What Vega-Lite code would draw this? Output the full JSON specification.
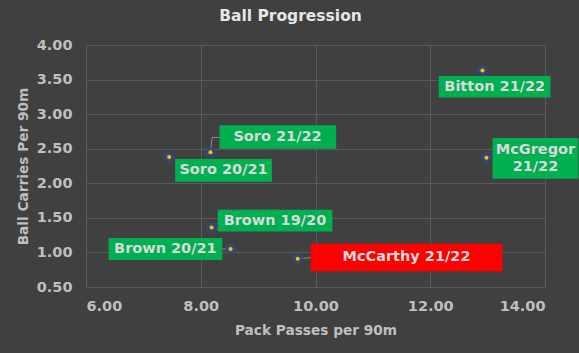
{
  "$schema": "https://vega.github.io/schema/vega-lite/v6.json",
  "width": 459,
  "height": 242,
  "autosize": "none",
  "padding": {"left": 86, "top": 45, "right": 34, "bottom": 66},
  "background": "#404040",
  "title": {"text": "Ball Progression", "fontSize": 15.5, "font": "DejaVu Sans", "fontWeight": "bold", "color": "#E6E6E6", "anchor": "middle", "dx": -25, "offset": 13},
  "data": {"values": [
    {"name": "Bitton 21/22", "x": 12.91, "y": 3.63},
    {"name": "McGregor 21/22", "x": 12.98, "y": 2.37},
    {"name": "Soro 21/22", "x": 8.17, "y": 2.45},
    {"name": "Soro 20/21", "x": 7.45, "y": 2.38},
    {"name": "Brown 19/20", "x": 8.19, "y": 1.36},
    {"name": "Brown 20/21", "x": 8.52, "y": 1.05},
    {"name": "McCarthy 21/22", "x": 9.69, "y": 0.91}
  ]},
  "encoding": {
    "x": {"field": "x", "type": "quantitative", "scale": {"domain": [6, 14], "nice": false, "zero": false},
      "axis": {"values": [6, 8, 10, 12, 14], "format": ".2f", "title": "Pack Passes per 90m", "grid": true, "gridColor": "#5A5A5A", "domain": false, "ticks": false, "labelPadding": 12, "labelFont": "DejaVu Sans", "labelFontSize": 14.5, "labelFontWeight": "bold", "labelColor": "#BFBFBF", "titleFont": "DejaVu Sans", "titleFontSize": 13.7, "titleFontWeight": "bold", "titleColor": "#BFBFBF", "titlePadding": 11}},
    "y": {"field": "y", "type": "quantitative", "scale": {"domain": [0.5, 4], "nice": false, "zero": false},
      "axis": {"values": [0.5, 1, 1.5, 2, 2.5, 3, 3.5, 4], "format": ".2f", "title": "Ball Carries Per 90m", "grid": true, "gridColor": "#5A5A5A", "domain": false, "ticks": false, "labelPadding": 14, "labelFont": "DejaVu Sans", "labelFontSize": 14.5, "labelFontWeight": "bold", "labelColor": "#BFBFBF", "titleFont": "DejaVu Sans", "titleFontSize": 13.7, "titleFontWeight": "bold", "titleColor": "#BFBFBF", "titlePadding": 6}}
  },
  "layer": [
    {"transform": [{"filter": "datum.name === 'Soro 21/22'"}], "mark": {"type": "rule", "color": "#8C8C8C", "strokeWidth": 1, "x2Offset": 1.7, "y2Offset": -14.7}, "encoding": {"x2": {"field": "x"}, "y2": {"field": "y"}}},
    {"transform": [{"filter": "datum.name === 'Soro 21/22'"}], "mark": {"type": "rule", "color": "#8C8C8C", "strokeWidth": 1, "xOffset": 1.7, "x2Offset": 9, "yOffset": -14.7, "y2Offset": -14.7}, "encoding": {"x2": {"field": "x"}, "y2": {"field": "y"}}},
    {"transform": [{"filter": "datum.name === 'Brown 20/21'"}], "mark": {"type": "rule", "color": "#8C8C8C", "strokeWidth": 1, "xOffset": -8.3, "x2Offset": -2}, "encoding": {"x2": {"field": "x"}, "y2": {"field": "y"}}},
    {"transform": [{"filter": "datum.name === 'McCarthy 21/22'"}], "mark": {"type": "rule", "color": "#8C8C8C", "strokeWidth": 1, "xOffset": 2, "x2Offset": 13, "y2Offset": -1}, "encoding": {"x2": {"field": "x"}, "y2": {"field": "y"}}},
    {"mark": {"type": "circle", "size": 150, "color": "#33497A", "opacity": 0.45}},
    {"mark": {"type": "circle", "size": 80, "color": "#33497A", "opacity": 0.9}},
    {"mark": {"type": "circle", "size": 16, "color": "#FFC000", "opacity": 1}},

    {"transform": [{"filter": "datum.name === 'Bitton 21/22'"}], "mark": {"type": "rect", "color": "#00B050", "xOffset": -43.7, "x2Offset": 68, "yOffset": 5.3, "y2Offset": 27}, "encoding": {"x2": {"field": "x"}, "y2": {"field": "y"}}},
    {"transform": [{"filter": "datum.name === 'Bitton 21/22'"}], "mark": {"type": "text", "font": "DejaVu Sans", "fontSize": 14.5, "fontWeight": "bold", "color": "#D9D9D9", "dx": 12.3, "dy": 16.3, "align": "center", "baseline": "middle"}, "encoding": {"text": {"field": "name"}}},

    {"transform": [{"filter": "datum.name === 'McGregor 21/22'"}], "mark": {"type": "rect", "color": "#00B050", "xOffset": 6, "x2Offset": 92, "yOffset": -19.7, "y2Offset": 21}, "encoding": {"x2": {"field": "x"}, "y2": {"field": "y"}}},
    {"transform": [{"filter": "datum.name === 'McGregor 21/22'"}], "mark": {"type": "text", "font": "DejaVu Sans", "fontSize": 14.5, "fontWeight": "bold", "color": "#D9D9D9", "dx": 49, "dy": -8, "align": "center", "baseline": "middle"}, "encoding": {"text": {"value": "McGregor"}}},
    {"transform": [{"filter": "datum.name === 'McGregor 21/22'"}], "mark": {"type": "text", "font": "DejaVu Sans", "fontSize": 14.5, "fontWeight": "bold", "color": "#D9D9D9", "dx": 49, "dy": 9.5, "align": "center", "baseline": "middle"}, "encoding": {"text": {"value": "21/22"}}},

    {"transform": [{"filter": "datum.name === 'Soro 21/22'"}], "mark": {"type": "rect", "color": "#00B050", "xOffset": 9, "x2Offset": 125.7, "yOffset": -27, "y2Offset": -3.3}, "encoding": {"x2": {"field": "x"}, "y2": {"field": "y"}}},
    {"transform": [{"filter": "datum.name === 'Soro 21/22'"}], "mark": {"type": "text", "font": "DejaVu Sans", "fontSize": 14.5, "fontWeight": "bold", "color": "#D9D9D9", "dx": 67, "dy": -15, "align": "center", "baseline": "middle"}, "encoding": {"text": {"field": "name"}}},

    {"transform": [{"filter": "datum.name === 'Soro 20/21'"}], "mark": {"type": "rect", "color": "#00B050", "xOffset": 6, "x2Offset": 102.7, "yOffset": 2, "y2Offset": 24.7}, "encoding": {"x2": {"field": "x"}, "y2": {"field": "y"}}},
    {"transform": [{"filter": "datum.name === 'Soro 20/21'"}], "mark": {"type": "text", "font": "DejaVu Sans", "fontSize": 14.5, "fontWeight": "bold", "color": "#D9D9D9", "dx": 54.3, "dy": 13.3, "align": "center", "baseline": "middle"}, "encoding": {"text": {"field": "name"}}},

    {"transform": [{"filter": "datum.name === 'Brown 19/20'"}], "mark": {"type": "rect", "color": "#00B050", "xOffset": 6, "x2Offset": 120.7, "yOffset": -17.7, "y2Offset": 4}, "encoding": {"x2": {"field": "x"}, "y2": {"field": "y"}}},
    {"transform": [{"filter": "datum.name === 'Brown 19/20'"}], "mark": {"type": "text", "font": "DejaVu Sans", "fontSize": 14.5, "fontWeight": "bold", "color": "#D9D9D9", "dx": 63.3, "dy": -6.9, "align": "center", "baseline": "middle"}, "encoding": {"text": {"field": "name"}}},

    {"transform": [{"filter": "datum.name === 'Brown 20/21'"}], "mark": {"type": "rect", "color": "#00B050", "xOffset": -122, "x2Offset": -8.3, "yOffset": -11, "y2Offset": 11}, "encoding": {"x2": {"field": "x"}, "y2": {"field": "y"}}},
    {"transform": [{"filter": "datum.name === 'Brown 20/21'"}], "mark": {"type": "text", "font": "DejaVu Sans", "fontSize": 14.5, "fontWeight": "bold", "color": "#D9D9D9", "dx": -65.2, "dy": 0, "align": "center", "baseline": "middle"}, "encoding": {"text": {"field": "name"}}},

    {"transform": [{"filter": "datum.name === 'McCarthy 21/22'"}], "mark": {"type": "rect", "color": "#FF0000", "xOffset": 13, "x2Offset": 204.7, "yOffset": -15, "y2Offset": 12.7}, "encoding": {"x2": {"field": "x"}, "y2": {"field": "y"}}},
    {"transform": [{"filter": "datum.name === 'McCarthy 21/22'"}], "mark": {"type": "text", "font": "DejaVu Sans", "fontSize": 14.5, "fontWeight": "bold", "color": "#D9D9D9", "dx": 108.8, "dy": -1.2, "align": "center", "baseline": "middle"}, "encoding": {"text": {"field": "name"}}}
  ],
  "config": {"view": {"stroke": null}}
}
